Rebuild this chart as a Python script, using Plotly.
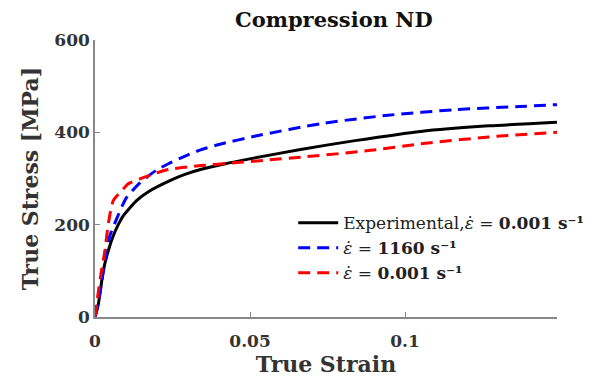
import plotly.graph_objects as go

# Experimental, 0.001 s^-1
exp_strain = [0, 0.001, 0.0016, 0.0027, 0.0043, 0.0059, 0.0075, 0.0091, 0.0134, 0.0176,
              0.024, 0.029, 0.0343, 0.042, 0.0503, 0.0663, 0.0839, 0.105, 0.127, 0.149]
exp_stress = [0, 25, 51, 101, 144, 176, 200, 219, 252, 273,
              295, 309, 320, 332, 343, 363, 382, 402, 414, 422]

# model, 1160 s^-1
hi_strain = [0, 0.001, 0.0021, 0.0037, 0.0048, 0.007, 0.0101, 0.0144, 0.0198, 0.024,
             0.0289, 0.0336, 0.0396, 0.0518, 0.073, 0.0945, 0.116, 0.137, 0.149]
hi_stress = [0, 30, 73, 144, 176, 213, 258, 290, 318, 333,
             348, 361, 373, 392, 419, 437, 449, 456, 460]

# model, 0.001 s^-1
lo_strain = [0, 0.001, 0.0021, 0.0032, 0.0043, 0.0059, 0.0091, 0.0106, 0.0144, 0.0198,
             0.024, 0.0343, 0.045, 0.0556, 0.0663, 0.089, 0.105, 0.127, 0.149]
lo_stress = [0, 51, 101, 144, 202, 252, 277, 288, 299, 312,
             320, 328, 334, 340, 346, 361, 375, 390, 400]

serif = "DejaVu Serif"

fig = go.Figure()
fig.add_trace(go.Scatter(x=exp_strain, y=exp_stress, mode="lines",
                         name="Experimental,<i>ε̇</i> = <b>0.001 s⁻¹</b>",
                         line=dict(color="black", width=3, shape="spline", smoothing=0.6)))
fig.add_trace(go.Scatter(x=hi_strain, y=hi_stress, mode="lines",
                         name="<i>ε̇</i> = <b>1160 s⁻¹</b>",
                         line=dict(color="#0000ff", width=3, dash="12px,7px", shape="spline", smoothing=0.6)))
fig.add_trace(go.Scatter(x=lo_strain, y=lo_stress, mode="lines",
                         name="<i>ε̇</i> = <b>0.001 s⁻¹</b>",
                         line=dict(color="#ff0000", width=3, dash="12px,7px", shape="spline", smoothing=0.6)))

axis_common = dict(showline=True, linecolor="#888", linewidth=1.5, ticks="inside",
                   tickcolor="#888", ticklen=5, showgrid=False, zeroline=False,
                   automargin=False,
                   tickfont=dict(family=serif, size=17, color="#333"))

fig.update_layout(
    width=600, height=387,
    margin=dict(l=87, r=51, t=32, b=78),
    plot_bgcolor="white", paper_bgcolor="white",
    title=dict(text="<b>Compression ND</b>", x=0.543, xanchor="center",
               y=0.988, yanchor="top", pad=dict(t=0), automargin=False,
               font=dict(family=serif, size=21, color="#111")),
    xaxis=dict(range=[0, 0.149], tickvals=[0, 0.05, 0.1], ticktext=["<b>0</b>", "<b>0.05</b>", "<b>0.1</b>"],
               ticklabelstandoff=8,
               title=dict(text="<b>True Strain</b>", font=dict(family=serif, size=22, color="#333"), standoff=6),
               **axis_common),
    yaxis=dict(range=[0, 600], tickvals=[0, 200, 400, 600], ticktext=["<b>0</b>", "<b>200</b>", "<b>400</b>", "<b>600</b>"],
               title=dict(text="<b>True Stress [MPa]</b>", font=dict(family=serif, size=22, color="#333"), standoff=10),
               **axis_common),
    legend=dict(x=0.429, y=0.404, xanchor="left", yanchor="top", bgcolor="rgba(255,255,255,0)",
                itemwidth=40,
                font=dict(family=serif, size=17, color="#222"), tracegroupgap=0),
    showlegend=True,
)

fig.write_html("out.html")
